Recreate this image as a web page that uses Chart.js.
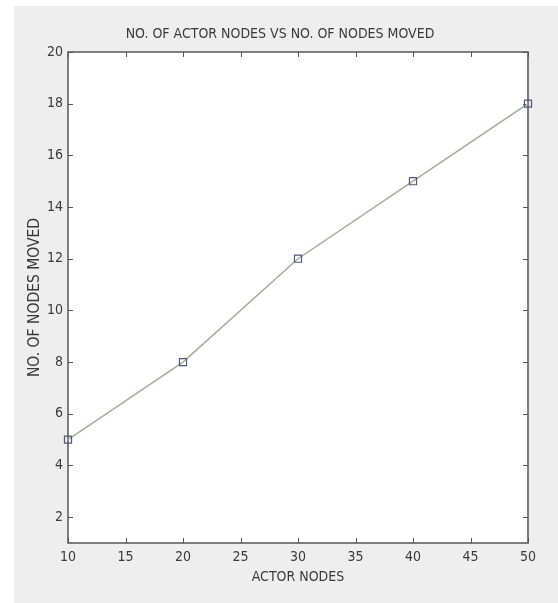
<!DOCTYPE html>
<html>
<head>
<meta charset="utf-8">
<script src="https://cdn.jsdelivr.net/npm/chart.js@4/dist/chart.umd.min.js"></script>
<style>
  html, body { margin: 0; padding: 0; background: #fff; overflow: hidden; }
  #wrap { width: 558px; height: 603px; }
</style>
</head>
<body>
<div id="wrap"><canvas id="nodesChart" width="558" height="603"></canvas></div>
<script>
// data
var actorNodes = [10, 20, 30, 40, 50];
var nodesMoved = [5, 8, 12, 15, 18];
var xTicks = [10, 15, 20, 25, 30, 35, 40, 45, 50];
var yTicks = [2, 4, 6, 8, 10, 12, 14, 16, 18, 20];

var textFont = "'Liberation Sans Narrow', 'DejaVu Sans Condensed', 'Liberation Sans', Arial, sans-serif";
var textColor = '#3a3a3a';

// matlab-ish frame: grey figure, white axes, box with inward ticks
var matlabFrame = {
  id: 'matlabFrame',
  beforeDraw: function(chart) {
    var ctx = chart.ctx, a = chart.chartArea;
    ctx.save();
    ctx.fillStyle = '#ffffff';
    ctx.fillRect(0, 0, chart.width, chart.height);
    ctx.fillStyle = '#eeeeee';
    ctx.fillRect(14, 6, chart.width - 14, chart.height - 6);
    ctx.fillStyle = '#ffffff';
    ctx.fillRect(a.left, a.top, a.right - a.left, a.bottom - a.top);
    ctx.restore();
  },
  beforeDatasetsDraw: function(chart) {
    var ctx = chart.ctx, a = chart.chartArea;
    var xs = chart.scales.x, ys = chart.scales.y;
    var len = 5;
    ctx.save();
    ctx.strokeStyle = '#555555';
    ctx.lineWidth = 1.5;
    ctx.strokeRect(a.left, a.top, a.right - a.left, a.bottom - a.top);
    ctx.lineWidth = 1;
    ctx.beginPath();
    xTicks.forEach(function(v) {
      var px = Math.round(xs.getPixelForValue(v)) + 0.5;
      ctx.moveTo(px, a.bottom); ctx.lineTo(px, a.bottom - len);
      ctx.moveTo(px, a.top); ctx.lineTo(px, a.top + len);
    });
    yTicks.forEach(function(v) {
      var py = Math.round(ys.getPixelForValue(v)) + 0.5;
      ctx.moveTo(a.left, py); ctx.lineTo(a.left + len, py);
      ctx.moveTo(a.right, py); ctx.lineTo(a.right - len, py);
    });
    ctx.stroke();
    ctx.restore();
  }
};

var ctx = document.getElementById('nodesChart').getContext('2d');
var nodesChart = new Chart(ctx, {
  type: 'scatter',
  data: {
    datasets: [{
      label: 'nodes moved',
      data: actorNodes.map(function(x, i) { return { x: x, y: nodesMoved[i] }; }),
      showLine: true,
      borderColor: '#9fb096',
      borderWidth: 1.5,
      pointStyle: 'rect',
      pointRadius: 5,
      pointBorderColor: '#55557a',
      pointBackgroundColor: 'rgba(255,255,255,0)',
      pointBorderWidth: 1.2,
      clip: false
    }]
  },
  options: {
    responsive: false,
    animation: false,
    layout: { padding: { left: 32, right: 30, top: 0, bottom: 0 } },
    plugins: {
      legend: { display: false },
      tooltip: { enabled: false },
      title: {
        display: true,
        text: 'NO. OF ACTOR NODES VS NO. OF NODES MOVED',
        color: textColor,
        font: { family: textFont, size: 14, weight: 'normal', lineHeight: 1.2 },
        padding: { top: 26, bottom: 9.2 }
      }
    },
    scales: {
      x: {
        type: 'linear',
        min: 10,
        max: 50,
        afterBuildTicks: function(scale) { scale.ticks = xTicks.map(function(v) { return { value: v }; }); },
        afterFit: function(scale) { scale.height = 60; },
        grid: { display: false, drawTicks: false },
        border: { display: false },
        ticks: { color: textColor, padding: 6, maxRotation: 0, font: { family: textFont, size: 14 } },
        title: {
          display: true,
          text: 'ACTOR NODES',
          color: textColor,
          font: { family: textFont, size: 14, lineHeight: 1.2 },
          padding: { top: 0, bottom: 17.6 }
        }
      },
      y: {
        type: 'linear',
        min: 1,
        max: 20,
        afterBuildTicks: function(scale) { scale.ticks = yTicks.map(function(v) { return { value: v }; }); },
        afterFit: function(scale) { scale.width = 36; },
        grid: { display: false, drawTicks: false },
        border: { display: false },
        ticks: { color: textColor, padding: 5, font: { family: textFont, size: 14 } },
        title: {
          display: true,
          text: 'NO. OF NODES MOVED',
          color: textColor,
          font: { family: textFont, size: 15.5, lineHeight: 1.2 },
          padding: { top: -6.3, bottom: 0 }
        }
      }
    }
  },
  plugins: [matlabFrame]
});
</script>
</body>
</html>
